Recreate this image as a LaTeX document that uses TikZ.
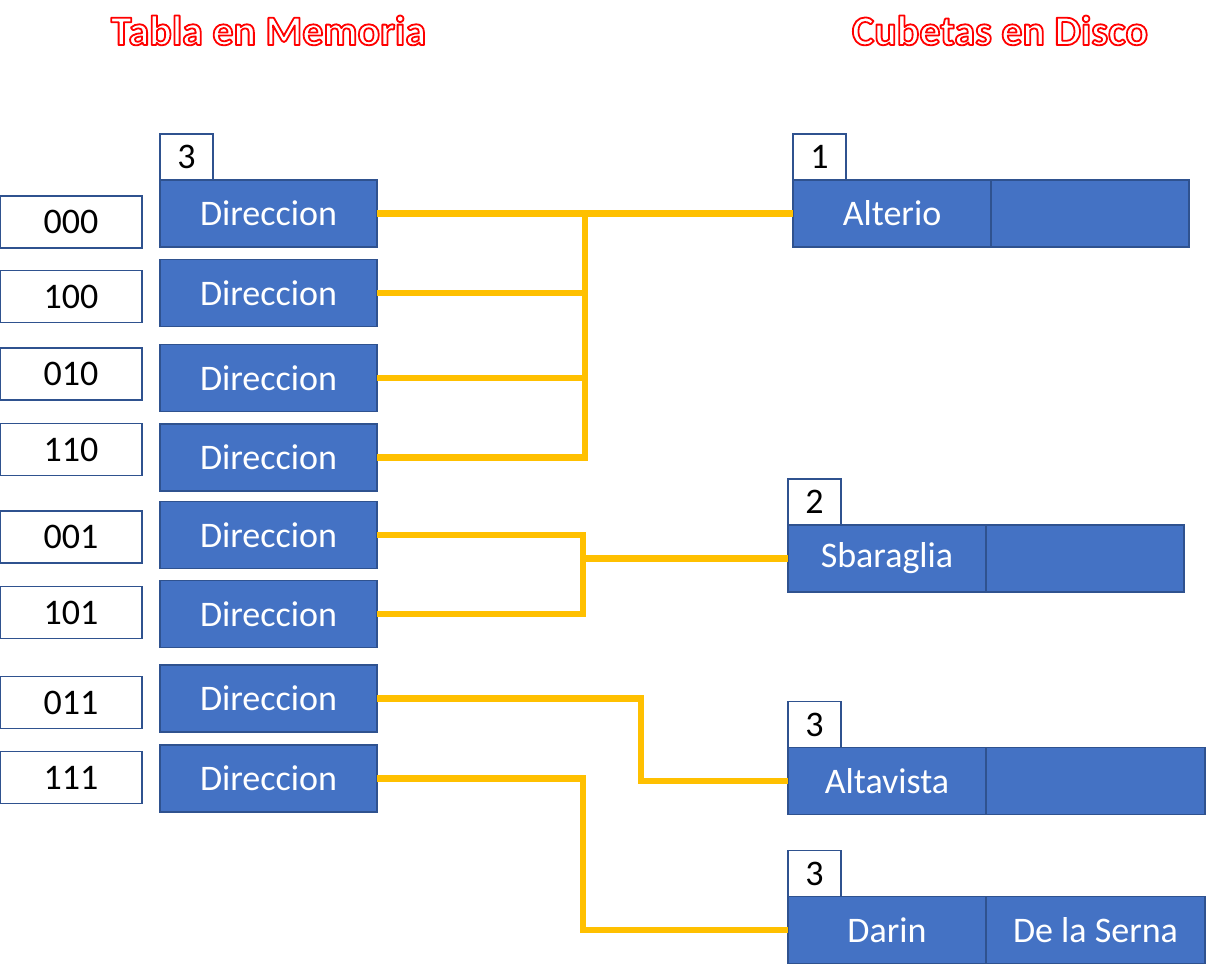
\documentclass[tikz,border=0pt]{standalone}
\usepackage{fontspec}
\setmainfont{Carlito}
\usetikzlibrary{positioning}

\definecolor{cellblue}{HTML}{4472C4}
\definecolor{celledge}{HTML}{2F528F}
\definecolor{linkgold}{HTML}{FFC000}

% texto hueco con borde rojo
\newcommand{\hollowtitle}[1]{{\color{white}%
  \special{pdf:literal direct q 2 Tr 1 0 0 RG 0.9 w 1 j}#1%
  \special{pdf:literal direct Q}}}

\tikzset{
  cell/.style={draw=celledge, line width=0.75pt, outer sep=0pt, inner sep=0pt,
    font=\fontsize{18}{20}\selectfont},
  keybox/.style={cell, fill=white, minimum width=71pt, minimum height=26pt},
  dirbox/.style={cell, fill=cellblue, text=white, minimum width=108.5pt, minimum height=33.5pt},
  depthbox/.style={cell, fill=white, minimum width=26.5pt, minimum height=23pt},
  bucketcell/.style={cell, fill=cellblue, text=white, minimum width=99pt, minimum height=33.5pt},
  link/.style={draw=linkgold, line width=3.25pt},
  titletext/.style={font=\fontsize{21}{24}\selectfont\bfseries, anchor=base}
}

\begin{document}
\begin{tikzpicture}[x=0.5pt, y=-0.5pt, node distance=0pt]
\useasboundingbox (0,0) rectangle (1206,976);

% titulos
\node[titletext] (ttabla) at (268.5,45) {\hollowtitle{Tabla en Memoria}};
\node[titletext] (tdisco) at (1000,45) {\hollowtitle{Cubetas en Disco}};

% tabla en memoria
\node[dirbox] (d000) at (268.5,213.5) {Direccion};
\node[dirbox] (d100) at (268.5,293) {Direccion};
\node[dirbox] (d010) at (268.5,378) {Direccion};
\node[dirbox] (d110) at (268.5,457.5) {Direccion};
\node[dirbox] (d001) at (268.5,535) {Direccion};
\node[dirbox] (d101) at (268.5,614) {Direccion};
\node[dirbox] (d011) at (268.5,698.5) {Direccion};
\node[dirbox] (d111) at (268.5,778.5) {Direccion};
\node[depthbox, above right=of d000.north west] (dglobal) {3};

\node[keybox] (k000) at (71,222) {000};
\node[keybox] (k100) at (71,296.5) {100};
\node[keybox] (k010) at (71,374) {010};
\node[keybox] (k110) at (71,449.5) {110};
\node[keybox] (k001) at (71,537) {001};
\node[keybox] (k101) at (71,612.5) {101};
\node[keybox] (k011) at (71,702.5) {011};
\node[keybox] (k111) at (71,777.5) {111};

% cubetas en disco
\node[bucketcell] (b1) at (892,213.5) {Alterio};
\node[bucketcell, right=of b1] (b1r) {};
\node[depthbox, above right=of b1.north west] (p1) {1};

\node[bucketcell] (b2) at (887,558.5) {Sbaraglia};
\node[bucketcell, right=of b2] (b2r) {};
\node[depthbox, above right=of b2.north west] (p2) {2};

\node[bucketcell] (b3) at (887,781) {Altavista};
\node[bucketcell, right=of b3, minimum width=109.5pt] (b3r) {};
\node[depthbox, above right=of b3.north west] (p3) {3};

\node[bucketcell] (b4) at (887,930) {Darin};
\node[bucketcell, right=of b4, minimum width=109.5pt] (b4r) {De la Serna};
\node[depthbox, above right=of b4.north west] (p4) {3};

% punteros
\coordinate (j1) at (585,213.5);
\coordinate (j2) at (583,558.5);
\coordinate (j3) at (641,781);
\coordinate (j4) at (583,930);
\draw[link] (d000.east) -- (j1) -- (b1.west);
\draw[link] (d100.east) -| (j1);
\draw[link] (d010.east) -| (j1);
\draw[link] (d110.east) -| (j1);
\draw[link] (d001.east) -| (j2);
\draw[link] (d101.east) -| (j2) -- (b2.west);
\draw[link] (d011.east) -| (j3) -- (b3.west);
\draw[link] (d111.east) -| (j4) -- (b4.west);
\end{tikzpicture}
\end{document}
